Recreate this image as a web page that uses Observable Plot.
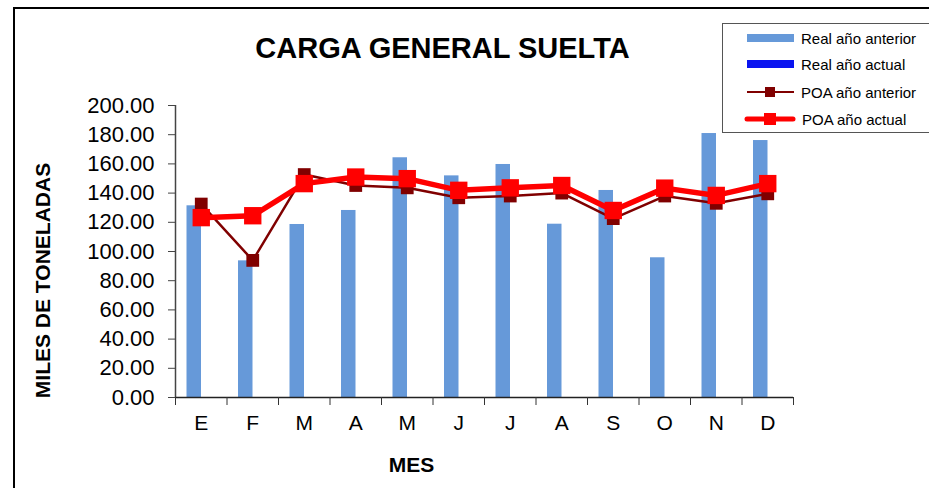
<!DOCTYPE html>
<html>
<head>
<meta charset="utf-8">
<script src="https://cdn.jsdelivr.net/npm/d3@7"></script>
<script src="https://cdn.jsdelivr.net/npm/@observablehq/plot@0.6"></script>
<style>
  html, body { margin: 0; padding: 0; background: #fff; }
  #wrap { position: relative; width: 929px; height: 488px; overflow: hidden; font-family: "Liberation Sans", Arial, sans-serif; }
  #frame { position: absolute; left: 13px; top: 7px; width: 940px; height: 500px; border-top: 2px solid #000; border-left: 2px solid #000; box-sizing: border-box; }
  #chart { position: absolute; left: 0; top: 0; }
  #legend { position: absolute; left: 722px; top: 23px; width: 230px; height: 110px; border: 1px solid #555; box-sizing: border-box; background: #fff; }
  .row { position: absolute; left: 24px; height: 20px; display: flex; align-items: center; font-size: 15px; color: #000; }
  .row svg { margin-right: 6px; }
</style>
</head>
<body>
<div id="wrap">
  <div id="frame"></div>
  <div id="chart"></div>
  <div id="legend"></div>
</div>
<script>
const title = "CARGA GENERAL SUELTA";
const yLabel = "MILES DE TONELADAS";
const xLabel = "MES";
const months = ["E", "F", "M", "A", "M", "J", "J", "A", "S", "O", "N", "D"];
const realAnterior = [131.3, 93.6, 118.5, 128.1, 164.2, 151.8, 159.6, 118.7, 141.8, 95.7, 180.8, 176.0];
const realActual = [];
const poaAnterior = [132.5, 93.9, 152.7, 145.2, 143.6, 136.8, 138.0, 140.0, 122.5, 138.0, 133.0, 139.5];
const poaActual = [123.2, 124.5, 146.5, 151.0, 149.9, 141.9, 143.6, 145.2, 128.1, 143.4, 138.4, 146.5];
const yTicks = [0, 20, 40, 60, 80, 100, 120, 140, 160, 180, 200];
const legendNames = ["Real año anterior", "Real año actual", "POA año anterior", "POA año actual"];

const colBar = "#6699d9";
const colBar2 = "#0a14f0";
const colPoaAnt = "#800000";
const colPoaAct = "#ff0000";

const bars = realAnterior.map((v, i) => ({i, v}));
const ant = poaAnterior.map((v, i) => ({x: i + 0.5, v}));
const act = poaActual.map((v, i) => ({x: i + 0.5, v}));
const centers = months.map((m, i) => i + 0.5);
const bounds = d3.range(months.length + 1);

const font = "Liberation Sans, Arial, sans-serif";

const plot = Plot.plot({
  width: 929,
  height: 488,
  marginLeft: 175,
  marginRight: 136,
  marginTop: 105,
  marginBottom: 91,
  style: {fontFamily: font, background: "transparent", color: "#000"},
  x: {type: "linear", domain: [0, months.length]},
  y: {domain: [0, 200]},
  marks: [
    Plot.rectY(bars, {x1: d => d.i, x2: d => d.i + 1, y: "v", fill: colBar, insetLeft: 11.5, insetRight: 25.5}),
    Plot.ruleX([0], {stroke: "#444", strokeWidth: 1.5}),
    Plot.ruleY([0], {stroke: "#222", strokeWidth: 1.5}),
    Plot.axisY({ticks: yTicks, tickFormat: d => d.toFixed(2), tickSize: 7, tickPadding: 14, fontSize: 22, label: null, stroke: "#444"}),
    Plot.axisX({ticks: bounds, tickFormat: () => "", tickSize: 8, label: null, stroke: "#333"}),
    Plot.axisX({ticks: centers, tickFormat: d => months[Math.round(d - 0.5)], tickSize: 0, tickPadding: 18, fontSize: 21, label: null}),
    Plot.line(ant, {x: "x", y: "v", stroke: colPoaAnt, strokeWidth: 2.5}),
    Plot.dot(ant, {x: "x", y: "v", symbol: "square", r: 7.2, fill: colPoaAnt, stroke: "none"}),
    Plot.line(act, {x: "x", y: "v", stroke: colPoaAct, strokeWidth: 5.5}),
    Plot.dot(act, {x: "x", y: "v", symbol: "square", r: 9.8, fill: colPoaAct, stroke: "none"}),
    Plot.text([title], {frameAnchor: "top", textAnchor: "middle", dx: -42, dy: -57, fontSize: 29, fontWeight: "bold", lineAnchor: "middle"}),
    Plot.text([yLabel], {frameAnchor: "left", textAnchor: "middle", dx: -132, dy: 29, rotate: -90, fontSize: 21, fontWeight: "bold", lineAnchor: "middle"}),
    Plot.text([xLabel], {frameAnchor: "bottom", textAnchor: "middle", dx: -73, dy: 68, fontSize: 21, fontWeight: "bold", lineAnchor: "middle"})
  ]
});
document.getElementById("chart").appendChild(plot);

// legend
const legend = document.getElementById("legend");
const rowsY = [4, 30, 58, 85];
const swatches = [
  `<svg width="48" height="14"><rect x="0" y="3" width="47" height="8" fill="${colBar}"/></svg>`,
  `<svg width="48" height="14"><rect x="0" y="3" width="47" height="8" fill="${colBar2}"/></svg>`,
  `<svg width="48" height="14"><line x1="0" y1="7" x2="47" y2="7" stroke="${colPoaAnt}" stroke-width="2"/><rect x="18" y="2" width="10" height="10" fill="${colPoaAnt}"/></svg>`,
  `<svg width="52" height="16"><line x1="3" y1="8" x2="49" y2="8" stroke="${colPoaAct}" stroke-width="5" stroke-linecap="round"/><rect x="20" y="2" width="12" height="12" fill="${colPoaAct}"/></svg>`
];
legendNames.forEach((name, k) => {
  const row = document.createElement("div");
  row.className = "row";
  row.style.top = rowsY[k] + "px";
  if (k === 3) row.style.left = "21px";
  row.innerHTML = swatches[k] + `<span>${name}</span>`;
  legend.appendChild(row);
});
</script>
</body>
</html>
